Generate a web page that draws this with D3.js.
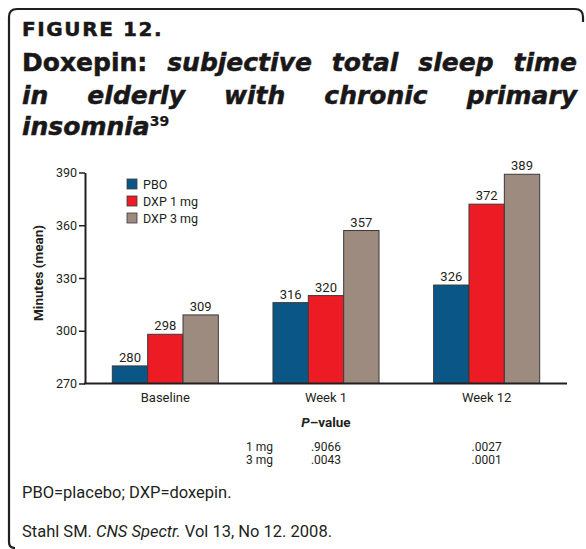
<!DOCTYPE html>
<html>
<head>
<meta charset="utf-8">
<script src="https://cdn.jsdelivr.net/npm/d3@7"></script>
<style>
  html, body { margin: 0; padding: 0; background: #fff; }
  svg { display: block; }
  .narrow { font-family: 'Liberation Sans Narrow', 'Roboto', sans-serif; }
  .title { font-family: 'DejaVu Sans', sans-serif; font-weight: bold; fill: #1a1718; stroke: #1a1718; stroke-width: 0.5px; }
</style>
</head>
<body>
<svg id="chart" width="586" height="549"></svg>
<script>
// chart data
const categories = ['Baseline', 'Week 1', 'Week 12']
const series = ['PBO', 'DXP 1 mg', 'DXP 3 mg']
const pboValues = [280, 316, 326]
const dxp1Values = [298, 320, 372]
const dxp3Values = [309, 357, 389]
const yTicks = [270, 300, 330, 360, 390]
const colors = ['#0a5787', '#ed1c24', '#9c8b7e']

// P-value table
const pRowLabels = ['1 mg', '3 mg']
const pWeek1 = ['.9066', '.0043']
const pWeek12 = ['.0027', '.0001']

const svg = d3.select('#chart')
const ink = '#231f20'

// frame (open bracket style)
svg.append('path')
  .attr('d', 'M15,548 Q9,548 9,542 V17 Q9,9 17,9 H575 Q583,9 583,17 V22')
  .attr('fill', 'none')
  .attr('stroke', ink)
  .attr('stroke-width', 2.2)

// ---- title ----
svg.append('text')
  .attr('class', 'title')
  .attr('x', 22)
  .attr('y', 36)
  .style('font-size', '20px')
  .style('letter-spacing', '1.6px')
  .text('FIGURE 12.')

const left = 22
const right = 577

function justifyLine (words, y) {
  let g = svg.append('g')
  let nodes = words.map(function (w) {
    return g.append('text')
      .attr('class', 'title')
      .attr('y', y)
      .style('font-size', '25px')
      .style('font-style', w.italic ? 'italic' : 'normal')
      .text(w.t)
  })
  let widths = nodes.map(function (n) { return n.node().getComputedTextLength() })
  let total = d3.sum(widths)
  let gap = (right - left - total) / (words.length - 1)
  let x = left
  nodes.forEach(function (n, i) {
    n.attr('x', x)
    x += widths[i] + gap
  })
}

justifyLine([
  { t: 'Doxepin:', italic: false },
  { t: 'subjective', italic: true },
  { t: 'total', italic: true },
  { t: 'sleep', italic: true },
  { t: 'time', italic: true }
], 71)

justifyLine(['in', 'elderly', 'with', 'chronic', 'primary'].map(function (t) {
  return { t: t, italic: true }
}), 104)

let last = svg.append('text')
  .attr('class', 'title')
  .attr('x', left)
  .attr('y', 135)
  .style('font-size', '25px')
last.append('tspan').style('font-style', 'italic').text('insomnia')
last.append('tspan')
  .attr('dy', -9)
  .style('font-size', '14px')
  .style('stroke-width', '0.2px')
  .text('39')

// ---- chart ----
const y = d3.scaleLinear().domain([270, 390]).range([383.5, 172.5])
const x0 = d3.scaleBand().domain(categories).range([85, 567])
  .paddingInner(0.34).paddingOuter(0.17)
const x1 = d3.scaleBand().domain(series).range([0, x0.bandwidth()])

const rows = categories.map(function (c, i) {
  return { cat: c, vals: [pboValues[i], dxp1Values[i], dxp3Values[i]] }
})

const groups = svg.append('g').selectAll('g')
  .data(rows)
  .enter().append('g')
  .attr('transform', function (d) { return 'translate(' + x0(d.cat) + ',0)' })

groups.selectAll('rect')
  .data(function (d) { return d.vals.map(function (v, j) { return { s: series[j], v: v, j: j } }) })
  .enter().append('rect')
  .attr('x', function (d) { return x1(d.s) })
  .attr('y', function (d) { return y(d.v) })
  .attr('width', x1.bandwidth())
  .attr('height', function (d) { return y(270) - y(d.v) })
  .attr('fill', function (d) { return colors[d.j] })
  .attr('stroke', '#3a3a3a')
  .attr('stroke-width', 1)

groups.selectAll('text')
  .data(function (d) { return d.vals.map(function (v, j) { return { s: series[j], v: v } }) })
  .enter().append('text')
  .attr('class', 'narrow')
  .attr('x', function (d) { return x1(d.s) + x1.bandwidth() / 2 })
  .attr('y', function (d) { return y(d.v) - 4 })
  .attr('text-anchor', 'middle')
  .style('font-size', '13px')
  .style('fill', ink)
  .text(function (d) { return d.v })

// y axis
const yAxis = svg.append('g')
  .attr('transform', 'translate(85,0)')
  .call(d3.axisLeft(y).tickValues(yTicks).tickSize(6).tickSizeOuter(0).tickPadding(2))
yAxis.select('.domain').attr('stroke', ink).attr('stroke-width', 2)
yAxis.selectAll('.tick line').attr('stroke', ink).attr('stroke-width', 1.5)
yAxis.selectAll('.tick text')
  .attr('class', 'narrow')
  .style('font-size', '12.5px')
  .style('fill', ink)

// x axis baseline
svg.append('line')
  .attr('x1', 84).attr('x2', 567)
  .attr('y1', y(270)).attr('y2', y(270))
  .attr('stroke', ink)
  .attr('stroke-width', 2)

// category labels
svg.append('g').selectAll('text')
  .data(categories)
  .enter().append('text')
  .attr('class', 'narrow')
  .attr('x', function (d) { return x0(d) + x0.bandwidth() / 2 })
  .attr('y', 402)
  .attr('text-anchor', 'middle')
  .style('font-size', '13px')
  .style('fill', ink)
  .text(function (d) { return d })

// y title
svg.append('text')
  .attr('class', 'narrow')
  .attr('transform', 'translate(43,273) rotate(-90)')
  .attr('text-anchor', 'middle')
  .style('font-size', '13.5px')
  .style('font-weight', 'bold')
  .style('fill', ink)
  .text('Minutes (mean)')

// legend
const legend = svg.append('g').selectAll('g')
  .data(series)
  .enter().append('g')
  .attr('transform', function (d, i) { return 'translate(127,' + (179 + i * 17) + ')' })
legend.append('rect')
  .attr('width', 10).attr('height', 10)
  .attr('fill', function (d, i) { return colors[i] })
  .attr('stroke', '#3a3a3a')
  .attr('stroke-width', 0.8)
legend.append('text')
  .attr('class', 'narrow')
  .attr('x', 16).attr('y', 9.5)
  .style('font-size', '12.5px')
  .style('fill', ink)
  .text(function (d) { return d })

// P-value table
const pv = svg.append('text')
  .attr('class', 'narrow')
  .attr('x', x0('Week 1') + x0.bandwidth() / 2)
  .attr('y', 427)
  .attr('text-anchor', 'middle')
  .style('font-size', '13.5px')
  .style('font-weight', 'bold')
  .style('fill', ink)
pv.append('tspan').style('font-style', 'italic').text('P')
pv.append('tspan').text('\u2013value')

pRowLabels.forEach(function (lab, i) {
  let yy = 451 + i * 13
  svg.append('text')
    .attr('class', 'narrow')
    .attr('x', 273).attr('y', yy)
    .attr('text-anchor', 'end')
    .style('font-size', '12px')
    .style('fill', ink)
    .text(lab)
  svg.append('text')
    .attr('class', 'narrow')
    .attr('x', x0('Week 1') + x0.bandwidth() / 2).attr('y', yy)
    .attr('text-anchor', 'middle')
    .style('font-size', '12px')
    .style('fill', ink)
    .text(pWeek1[i])
  svg.append('text')
    .attr('class', 'narrow')
    .attr('x', x0('Week 12') + x0.bandwidth() / 2).attr('y', yy)
    .attr('text-anchor', 'middle')
    .style('font-size', '12px')
    .style('fill', ink)
    .text(pWeek12[i])
})

// footnotes
svg.append('text')
  .attr('class', 'narrow')
  .attr('x', 22).attr('y', 498)
  .style('font-size', '16.5px')
  .style('fill', ink)
  .text('PBO=placebo; DXP=doxepin.')

const cite = svg.append('text')
  .attr('class', 'narrow')
  .attr('x', 22).attr('y', 537)
  .style('font-size', '16.5px')
  .style('fill', ink)
cite.append('tspan').text('Stahl SM. ')
cite.append('tspan').style('font-style', 'italic').text('CNS Spectr.')
cite.append('tspan').text(' Vol 13, No 12. 2008.')
</script>
</body>
</html>
